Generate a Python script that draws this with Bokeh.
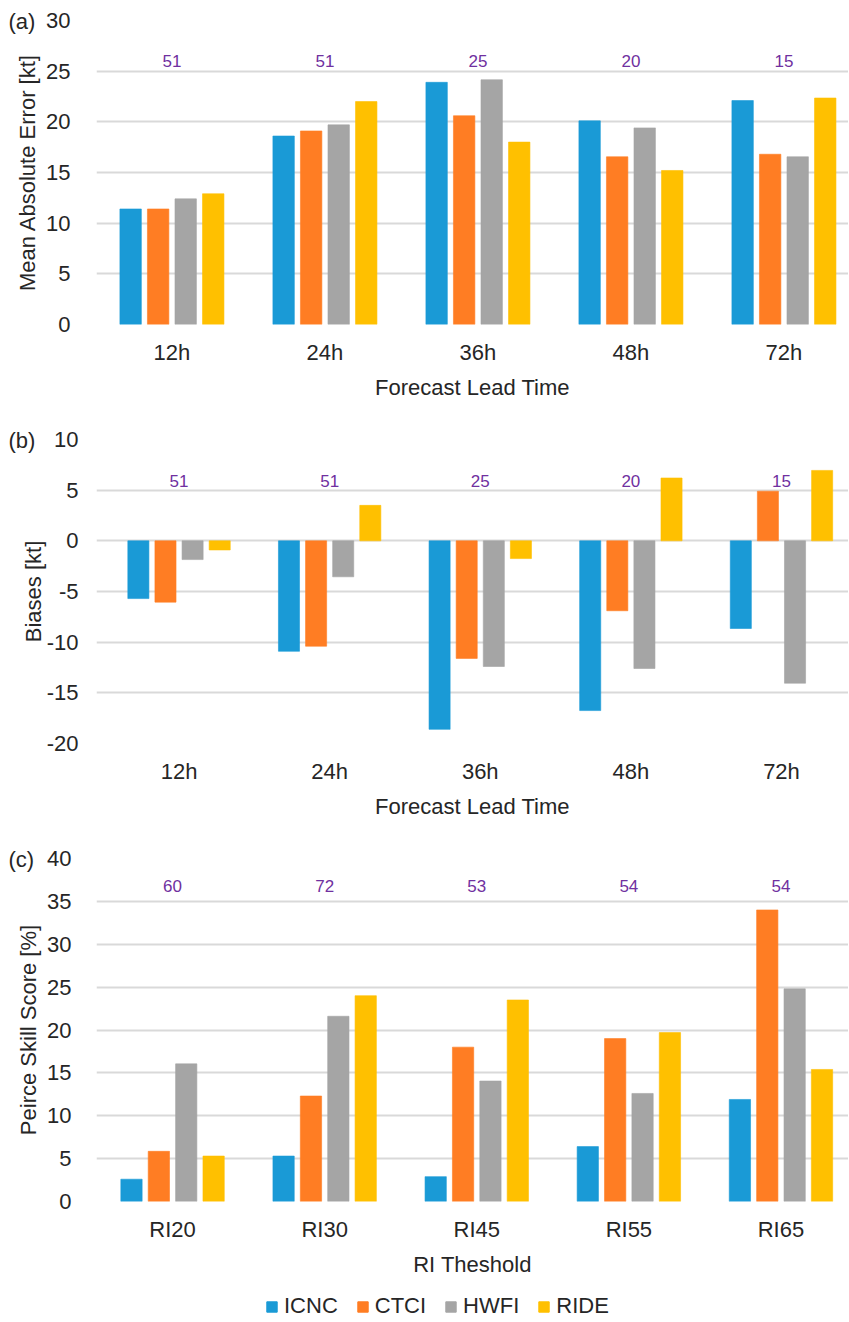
import numpy as np
from bokeh.plotting import figure
from bokeh.models import (Range1d, FixedTicker, Legend, LegendItem,
                          PrintfTickFormatter)
from bokeh.layouts import column
from bokeh.embed import file_html
from bokeh.resources import INLINE
from bokeh.core.properties import value

# ---------------- data ----------------
models = ["ICNC", "CTCI", "HWFI", "RIDE"]
lead_times = ["12h", "24h", "36h", "48h", "72h"]
thresholds = ["RI20", "RI30", "RI45", "RI55", "RI65"]

mae_icnc = [11.4, 18.6, 23.9, 20.1, 22.1]
mae_ctci = [11.4, 19.1, 20.6, 16.55, 16.8]
mae_hwfi = [12.4, 19.7, 24.15, 19.4, 16.55]
mae_ride = [12.9, 22.0, 18.0, 15.2, 22.35]
mae_counts = [51, 51, 25, 20, 15]

bias_icnc = [-5.7, -10.9, -18.6, -16.75, -8.65]
bias_ctci = [-6.05, -10.4, -11.6, -6.9, 4.9]
bias_hwfi = [-1.85, -3.55, -12.4, -12.6, -14.05]
bias_ride = [-0.9, 3.5, -1.75, 6.2, 6.95]
bias_counts = [51, 51, 25, 20, 15]

pss_icnc = [2.6, 5.3, 2.9, 6.4, 11.9]
pss_ctci = [5.85, 12.3, 18.0, 19.0, 34.0]
pss_hwfi = [16.05, 21.6, 14.05, 12.6, 24.8]
pss_ride = [5.3, 24.0, 23.5, 19.7, 15.4]
pss_counts = [60, 72, 53, 54, 54]

# ---------------- style ----------------
COLORS = ["#1A9AD6", "#FF7D23", "#A5A5A5", "#FFC000"]
FONT = "Liberation Sans"
TXT = "#262626"
GRID = "#D9D9D9"
COUNT_COLOR = "#7030A0"
W = 848
LEFT = 96
BAR_W = 0.14
OFFSETS = [-0.27, -0.09, 0.09, 0.27]


def make_panel(cats, series, counts, y0, y1, ylabel, xlabel, tag, height,
               top, bottom, x_start, x_end, count_y, tick_standoff,
               ylab_standoff):
    p = figure(width=W, height=height, title=tag, toolbar_location=None,
               output_backend="svg", x_range=Range1d(x_start, x_end),
               y_range=Range1d(y0, y1), min_border_left=LEFT,
               min_border_right=0, min_border_top=top,
               min_border_bottom=bottom)
    p.outline_line_color = None
    xs = np.arange(len(cats))
    rends = []
    for vals, off, col in zip(series, OFFSETS, COLORS):
        r = p.vbar(x=xs + off, top=vals, bottom=0, width=BAR_W,
                   fill_color=col, line_color=col, line_width=0.6)
        rends.append(r)
    p.text(x=xs, y=[count_y] * len(counts), text=[str(c) for c in counts],
           text_align="center", text_baseline="middle",
           text_font=value(FONT), text_font_size="17px",
           text_color=COUNT_COLOR)

    p.xgrid.visible = False
    p.ygrid.grid_line_color = GRID
    p.ygrid.grid_line_width = 1.8
    p.yaxis.ticker = FixedTicker(ticks=list(range(int(y0), int(y1) + 1, 5)))
    p.yaxis.formatter = PrintfTickFormatter(format="%d")
    p.xaxis.ticker = FixedTicker(ticks=list(xs))
    p.xaxis.major_label_overrides = {int(i): c for i, c in zip(xs, cats)}
    for ax in (p.xaxis, p.yaxis):
        ax.axis_line_color = None
        ax.major_tick_line_color = None
        ax.minor_tick_line_color = None
        ax.major_label_text_font = FONT
        ax.major_label_text_font_size = "22px"
        ax.major_label_text_color = TXT
        ax.axis_label_text_font = FONT
        ax.axis_label_text_font_size = "22px"
        ax.axis_label_text_font_style = "normal"
        ax.axis_label_text_color = TXT
    p.xaxis.axis_label = xlabel
    p.yaxis.axis_label = ylabel
    p.xaxis.major_label_standoff = 9
    p.xaxis.axis_label_standoff = 7
    p.yaxis.major_label_standoff = tick_standoff
    p.yaxis.axis_label_standoff = ylab_standoff

    # panel tag "(a)" etc. placed beside the top tick
    p.title.align = "left"
    p.title.vertical_align = "bottom"
    p.title.offset = -88
    p.title.standoff = -26
    p.title.text_font = FONT
    p.title.text_font_size = "22px"
    p.title.text_font_style = "normal"
    p.title.text_color = TXT
    return p, rends


pa, _ = make_panel(lead_times, [mae_icnc, mae_ctci, mae_hwfi, mae_ride],
                   mae_counts, 0, 30, "Mean Absolute Error [kt]",
                   "Forecast Lead Time", "(a)", 404, 20, 80, -0.493, 4.422,
                   26.0, 20, 3)
pb, _ = make_panel(lead_times, [bias_icnc, bias_ctci, bias_hwfi, bias_ride],
                   bias_counts, -20, 10, "Biases [kt]",
                   "Forecast Lead Time", "(b)", 419, 35, 80, -0.548, 4.445,
                   5.9, 12, -2)
pc, _ = make_panel(thresholds, [pss_icnc, pss_ctci, pss_hwfi, pss_ride],
                   pss_counts, 0, 40, "Peirce Skill Score [%]",
                   "RI Theshold", "(c)", 462, 35, 84, -0.5, 4.444,
                   36.8, 19, 3)

# legend strip below panel (c); its swatches carry no visible data
pl = figure(width=W, height=36, toolbar_location=None, output_backend="svg",
            x_range=Range1d(0, 1), y_range=Range1d(0, 1), title=None,
            min_border_left=LEFT, min_border_right=0, min_border_top=0,
            min_border_bottom=0)
pl.xaxis.visible = False
pl.yaxis.visible = False
pl.grid.visible = False
pl.outline_line_color = None
leg_rends = [pl.vbar(x=[np.nan], top=[np.nan], width=0.1, fill_color=c,
                     line_color=c) for c in COLORS]
legend = Legend(items=[LegendItem(label=value(m), renderers=[r])
                       for m, r in zip(models, leg_rends)],
                orientation="horizontal", location=(169, 2))
legend.border_line_color = None
legend.background_fill_alpha = 0
legend.glyph_width = 13
legend.glyph_height = 13
legend.label_standoff = 6
legend.spacing = 18
legend.padding = 0
legend.margin = 0
legend.label_text_font = FONT
legend.label_text_font_size = "22px"
legend.label_text_color = TXT
pl.add_layout(legend)

layout = column(pa, pb, pc, pl, spacing=0)
open("out.html", "w").write(file_html(layout, INLINE))
